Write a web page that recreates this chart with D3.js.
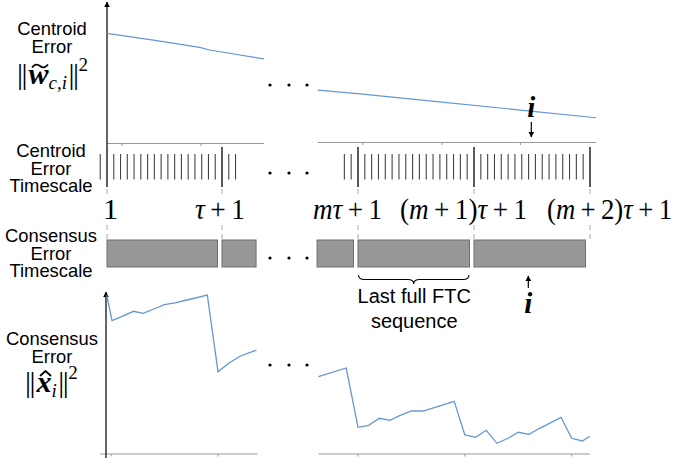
<!DOCTYPE html>
<html><head><meta charset="utf-8">
<script src="https://cdn.jsdelivr.net/npm/d3@7"></script>
<style>body{margin:0;background:#fff}svg{display:block}</style>
</head><body>
<svg id="c" width="673" height="466"></svg>
<script>
// ---------------- data ----------------
const tau = 17, m = 5;
// iteration indices of centroid-error timescale ticks
const timescaleLeft = d3.range(0, 21);
const timescaleRight = d3.range(84, 121);
const majorIters = [1, 18, 86, 103, 120];
const majorLabels = ["1", "τ + 1", "mτ + 1", "(m + 1)τ + 1", "(m + 2)τ + 1"];
// centroid error (iteration, value)
const centroidLeftIter = [1, 8.1, 14.7, 16.2, 24.2];
const centroidLeftVal = [7.86, 7.36, 6.86, 6.68, 6.04];
const centroidRightIter = [80.1, 86.3, 98.3, 109.8, 120.9];
const centroidRightVal = [3.81, 3.54, 2.96, 2.39, 1.84];
const centroidTicksLeft = [3.2, 14.9];
const centroidTicksRight = [86.7, 98.3, 109.8];
// consensus timescale FTC sequences [start iter, end iter]
const ftcStart = [1, 18, 80, 86, 103];
const ftcEnd = [18, 23.7, 86, 103, 120];
const currentIter = 111.4;
// consensus error (period, value)
const consensusLeftU = [-0.04, 0.01, 0.10, 0.21, 0.30, 0.40, 0.50, 0.61, 0.71, 0.90, 1.00, 1.10, 1.21, 1.36];
const consensusLeftVal = [15.9, 13.33, 13.73, 14.27, 14.07, 14.5, 14.93, 15.13, 15.4, 15.9, 8.23, 9.07, 9.8, 10.4];
const consensusRightU = [4.63, 4.89, 5.00, 5.10, 5.20, 5.30, 5.39, 5.50, 5.61, 5.90, 6.00, 6.10, 6.20, 6.30, 6.41, 6.50, 6.60, 6.70, 6.90, 7.00, 7.10, 7.17];
const consensusRightVal = [7.73, 8.6, 2.67, 2.87, 3.57, 3.37, 3.83, 4.3, 4.3, 5.27, 1.9, 1.67, 2.37, 1.07, 1.6, 2.17, 1.97, 2.57, 3.67, 1.57, 1.3, 1.77];
const consensusTicksLeft = [0, 1];
const consensusTicksRight = [5, 6, 7];

// ---------------- scales ----------------
const svg = d3.select("#c");
const xL = d3.scaleLinear().domain([1, 18]).range([107, 222]);
const xR = d3.scaleLinear().domain([86, 120]).range([358, 590]);
const xT = t => t < 50 ? xL(t) : xR(t);
const yTop = d3.scaleLinear().domain([0, 10]).range([143.5, 3.5]);
const xBL = d3.scaleLinear().domain([0, 1]).range([111, 218]);
const xBR = d3.scaleLinear().domain([5, 7]).range([358, 571.7]);
const yBot = d3.scaleLinear().domain([0, 16]).range([454, 294]);

const defs = svg.append("defs");
defs.append("marker").attr("id", "arr").attr("viewBox", "0 0 10 10")
  .attr("refX", 9).attr("refY", 5).attr("markerWidth", 5).attr("markerHeight", 6)
  .attr("orient", "auto").append("path").attr("d", "M0,0L10,5L0,10z").attr("fill", "#000");

const SANS = "'Liberation Sans', Arial, Helvetica, sans-serif";
const SERIF = "'Liberation Serif', 'Times New Roman', serif";
const blue = "#6696d3";

// ---------------- left labels ----------------
function multiLabel(lines, cx, y0, dy) {
  const t = svg.append("text").attr("font-family", SANS).attr("font-size", 18.4)
    .attr("text-anchor", "middle").attr("fill", "#000");
  lines.forEach((s, i) => t.append("tspan").attr("x", cx).attr("y", y0 + i * dy).text(s));
}
multiLabel(["Centroid", "Error"], 52, 35, 18);
multiLabel(["Centroid", "Error", "Timescale"], 51, 157, 17.5);
multiLabel(["Consensus", "Error", "Timescale"], 51, 242, 17.5);
multiLabel(["Consensus", "Error"], 52, 345, 18);

function mathNorm(x, y, base, sub, accent) {
  const g = svg.append("g");
  const t = g.append("text").attr("font-family", SERIF).attr("font-size", 30).attr("x", x).attr("y", y);
  t.append("tspan").text("||").attr("letter-spacing", -1.5);
  t.append("tspan").text(base).attr("font-weight", "bold").attr("font-style", "italic").attr("dx", 2.5);
  t.append("tspan").text(sub).attr("font-style", "italic").attr("font-size", 19).attr("dy", 5);
  t.append("tspan").text("||").attr("dy", -5).attr("dx", 1.5).attr("letter-spacing", -1.5);
  t.append("tspan").text("2").attr("font-size", 19).attr("dy", -13).attr("dx", 1);
  const ext = t.node().getExtentOfChar(2);
  const cx = ext.x + ext.width / 2 + 1.5;
  const ty = y - 18;
  const p = accent === "~"
    ? `M${cx - 8},${ty + 1.5} Q${cx - 4},${ty - 3.5} ${cx},${ty} T${cx + 8},${ty - 1.5}`
    : `M${cx - 5.5},${ty + 2} L${cx},${ty - 3} L${cx + 5.5},${ty + 2}`;
  g.append("path").attr("d", p).attr("fill", "none").attr("stroke", "#000").attr("stroke-width", 1.8);
}
mathNorm(17, 84, "w", "c,i", "~");
mathNorm(25, 392, "x", "i", "^");

// ---------------- top panel: centroid error ----------------
function grayAxis(scale, x0, x1, y, ticks) {
  svg.append("line").attr("x1", scale(x0)).attr("x2", scale(x1)).attr("y1", y).attr("y2", y)
    .attr("stroke", "#999").attr("stroke-width", 1);
  svg.selectAll(null).data(ticks).join("line")
    .attr("x1", d => scale(d)).attr("x2", d => scale(d)).attr("y1", y).attr("y2", y + 2.5)
    .attr("stroke", "#999").attr("stroke-width", 1);
}
grayAxis(xL, 1, 24.2, yTop(0), centroidTicksLeft);
grayAxis(xR, 80.1, 120.9, yTop(0) - 1, centroidTicksRight);
svg.append("line").attr("x1", xL(1)).attr("x2", xL(1)).attr("y1", 147).attr("y2", 2)
  .attr("stroke", "#000").attr("stroke-width", 1.2).attr("marker-end", "url(#arr)");

const lineTop = d3.line().x(d => xT(d[0])).y(d => yTop(d[1]));
svg.append("path").attr("d", lineTop(d3.zip(centroidLeftIter, centroidLeftVal)))
  .attr("fill", "none").attr("stroke", blue).attr("stroke-width", 1.2);
svg.append("path").attr("d", lineTop(d3.zip(centroidRightIter, centroidRightVal)))
  .attr("fill", "none").attr("stroke", blue).attr("stroke-width", 1.2);

// marker i (top)
svg.append("text").attr("x", xT(currentIter)).attr("y", 117).attr("text-anchor", "middle")
  .attr("font-family", SERIF).attr("font-size", 29).attr("font-weight", "bold").attr("font-style", "italic").text("i");
svg.append("line").attr("x1", xT(currentIter)).attr("x2", xT(currentIter)).attr("y1", 122).attr("y2", 137)
  .attr("stroke", "#000").attr("stroke-width", 1.2).attr("marker-end", "url(#arr)");

// ---------------- centroid error timescale ----------------
const minorTicks = timescaleLeft.concat(timescaleRight).filter(t => !majorIters.includes(t));
svg.selectAll(null).data(minorTicks).join("line")
  .attr("x1", d => xT(d)).attr("x2", d => xT(d)).attr("y1", 154).attr("y2", 179.5)
  .attr("stroke", "#444").attr("stroke-width", 1.1);
svg.selectAll(null).data(majorIters).join("line")
  .attr("x1", d => xT(d)).attr("x2", d => xT(d)).attr("y1", 147).attr("y2", 187)
  .attr("stroke", "#333").attr("stroke-width", 1.6);
// dashed guides
[[189, 198], [225, 239]].forEach(([a, b]) => {
  svg.selectAll(null).data(majorIters).join("line")
    .attr("x1", d => xT(d)).attr("x2", d => xT(d)).attr("y1", a).attr("y2", b)
    .attr("stroke", "#aaa").attr("stroke-width", 1).attr("stroke-dasharray", "5,4");
});
// major labels
const labelStart = [-4, -27, -45, -74, -43];
const labelWidth = [7, 50, 69, 127, 125];
majorLabels.forEach((s, i) => {
  const t = svg.append("text").attr("font-family", SERIF).attr("font-size", 30)
    .attr("x", xT(majorIters[i]) + labelStart[i]).attr("y", 219);
  if (i > 0) t.attr("textLength", labelWidth[i]).attr("lengthAdjust", "spacingAndGlyphs");
  s.split("").forEach(ch => {
    t.append("tspan").attr("font-style", (ch === "m" || ch === "τ") ? "italic" : "normal").text(ch === " " ? "\u2009" : ch);
  });
});

// ---------------- consensus error timescale ----------------
svg.selectAll(null).data(d3.range(ftcStart.length)).join("rect")
  .attr("x", i => xT(ftcStart[i])).attr("y", 240)
  .attr("width", i => xT(ftcEnd[i]) - xT(ftcStart[i]) - 4.5).attr("height", 27)
  .attr("fill", "#979797").attr("stroke", "#6e6e6e").attr("stroke-width", 1);

// brace under last full FTC sequence
{
  const x1 = xT(ftcStart[3]) + 0.5, x2 = xT(ftcEnd[3]) - 5, y0 = 275, h = 9, r = 6, mid = (x1 + x2) / 2;
  const p = `M${x1},${y0} Q${x1},${y0 + h / 2} ${x1 + r},${y0 + h / 2} L${mid - r},${y0 + h / 2} Q${mid},${y0 + h / 2} ${mid},${y0 + h} Q${mid},${y0 + h / 2} ${mid + r},${y0 + h / 2} L${x2 - r},${y0 + h / 2} Q${x2},${y0 + h / 2} ${x2},${y0}`;
  svg.append("path").attr("d", p).attr("fill", "none").attr("stroke", "#000").attr("stroke-width", 1.1);
  const t = svg.append("text").attr("font-family", SANS).attr("font-size", 20).attr("text-anchor", "middle");
  t.append("tspan").attr("x", mid + 0.5).attr("y", 303).text("Last full FTC");
  t.append("tspan").attr("x", mid + 0.5).attr("y", 328).text("sequence");
}
// marker i (bottom)
svg.append("line").attr("x1", xT(currentIter) - 3).attr("x2", xT(currentIter) - 3).attr("y1", 288).attr("y2", 276)
  .attr("stroke", "#000").attr("stroke-width", 1.2).attr("marker-end", "url(#arr)");
svg.append("text").attr("x", xT(currentIter) - 3).attr("y", 313).attr("text-anchor", "middle")
  .attr("font-family", SERIF).attr("font-size", 29).attr("font-weight", "bold").attr("font-style", "italic").text("i");

// ---------------- bottom panel: consensus error ----------------
grayAxis(xBL, -0.1, 1.37, yBot(0), consensusTicksLeft);
grayAxis(xBR, 4.63, 7.17, yBot(0), consensusTicksRight);
svg.append("line").attr("x1", 106).attr("x2", 106).attr("y1", 458).attr("y2", 292)
  .attr("stroke", "#000").attr("stroke-width", 1.2).attr("marker-end", "url(#arr)");
const lineBL = d3.line().x(d => xBL(d[0])).y(d => yBot(d[1]));
const lineBR = d3.line().x(d => xBR(d[0])).y(d => yBot(d[1]));
svg.append("path").attr("d", lineBL(d3.zip(consensusLeftU, consensusLeftVal)))
  .attr("fill", "none").attr("stroke", blue).attr("stroke-width", 1.3);
svg.append("path").attr("d", lineBR(d3.zip(consensusRightU, consensusRightVal)))
  .attr("fill", "none").attr("stroke", blue).attr("stroke-width", 1.3);

// ---------------- ellipses ----------------
[85, 173, 258, 365].forEach(y => {
  [270, 289, 307].forEach(x => svg.append("circle").attr("cx", x).attr("cy", y).attr("r", 1.6).attr("fill", "#000"));
});
</script>
</body></html>
